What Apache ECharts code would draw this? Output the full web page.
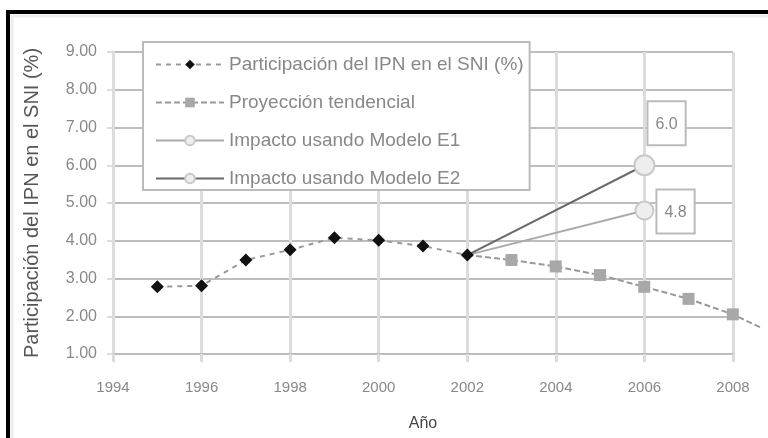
<!DOCTYPE html>
<html>
<head>
<meta charset="utf-8">
<script src="https://cdn.jsdelivr.net/npm/echarts@6/dist/echarts.min.js"></script>
<style>
html,body{margin:0;padding:0;background:#fff;}
#chart{width:768px;height:438px;}
</style>
</head>
<body>
<div id="chart"></div>
<script>
var seriesNames = ['Participación del IPN en el SNI (%)', 'Proyección tendencial', 'Impacto usando Modelo E1', 'Impacto usando Modelo E2'];
var histYears = [1995, 1996, 1997, 1998, 1999, 2000, 2001, 2002];
var histValues = [2.78, 2.81, 3.49, 3.76, 4.08, 4.01, 3.86, 3.62];
var projYears = [2002, 2003, 2004, 2005, 2006, 2007, 2008, 2008.65];
var projValues = [3.62, 3.49, 3.32, 3.09, 2.78, 2.46, 2.05, 1.69];
var e1Years = [2002, 2006];
var e1Values = [3.62, 4.8];
var e2Years = [2002, 2006];
var e2Values = [3.62, 6.0];
var yTicks = [1, 9, 1];   // min, max, step
var xTicks = [1994, 2008, 2];
var xTail = 2008.75;      // the trend line runs on past the last gridline

function pairs(xs, ys){
    var out = [];
    for (var i = 0; i < xs.length; i++) out.push([xs[i], ys[i]]);
    return out;
}

var font = 'Liberation Sans, Arial, sans-serif';
var chart = echarts.init(document.getElementById('chart'));

var projData = pairs(projYears, projValues);
projData[0] = {value: projData[0], symbol: 'none'};
projData[projData.length - 1] = {value: projData[projData.length - 1], symbol: 'none'};

function endLabel(pos){
    return {
        show: true,
        position: pos,
        formatter: function(p){ return p.value[1].toFixed(1); },
        fontFamily: font,
        fontSize: 16,
        color: '#888',
        backgroundColor: '#fff',
        borderColor: '#bbb',
        borderWidth: 2,
        padding: [14, 7, 12, 7]
    };
}
var e1Data = pairs(e1Years, e1Values);
e1Data[0] = {value: e1Data[0], symbol: 'none'};
e1Data[1] = {value: e1Data[1], label: endLabel([23, -10])};
var e2Data = pairs(e2Years, e2Values);
e2Data[0] = {value: e2Data[0], symbol: 'none'};
e2Data[1] = {value: e2Data[1], label: endLabel([15, -52])};

var option = {
    animation: false,
    backgroundColor: '#fff',
    graphic: [{
        type: 'rect',
        shape: {x: 8, y: 12, width: 900, height: 600},
        style: {fill: 'none', stroke: '#000', lineWidth: 4},
        z: 100
    }, {
        type: 'rect',
        shape: {x: 12, y: 16, width: 900, height: 600},
        style: {fill: 'none', stroke: '#eee', lineWidth: 3},
        z: 99
    }],
    grid: [
        {left: 113, right: 35, top: 52, bottom: 84},
        {left: 113, right: 2, top: 52, bottom: 84}
    ],
    legend: {
        orient: 'vertical',
        left: 143,
        top: 42,
        data: seriesNames,
        backgroundColor: '#fff',
        borderColor: '#bbb',
        borderWidth: 2,
        padding: [13, 6, 2, 12],
        itemWidth: 68,
        itemHeight: 12,
        itemGap: 19,
        textStyle: {fontFamily: font, fontSize: 19, color: '#888'},
        z: 10
    },
    xAxis: [{
        type: 'value',
        gridIndex: 0,
        min: xTicks[0],
        max: xTicks[1],
        interval: xTicks[2],
        name: 'Año',
        nameLocation: 'middle',
        nameGap: 62,
        nameTextStyle: {fontFamily: font, fontSize: 16, color: '#444'},
        axisLine: {show: true, lineStyle: {color: '#bdbdbd', width: 2}},
        axisTick: {show: true, length: 8, lineStyle: {color: '#dcdcdc', width: 3}},
        axisLabel: {fontFamily: font, fontSize: 15, color: '#888', margin: 26,
            formatter: function(v){ return String(v); }},
        splitLine: {show: true, lineStyle: {color: '#dcdcdc', width: 3}}
    }, {
        type: 'value',
        gridIndex: 1,
        min: xTicks[0],
        max: xTail,
        show: false
    }],
    yAxis: [{
        type: 'value',
        gridIndex: 0,
        min: yTicks[0],
        max: yTicks[1],
        interval: yTicks[2],
        name: seriesNames[0],
        nameLocation: 'middle',
        nameGap: 71,
        nameTextStyle: {fontFamily: font, fontSize: 20, color: '#555'},
        axisLine: {show: true, lineStyle: {color: '#dcdcdc', width: 3}},
        axisTick: {show: true, length: 6, lineStyle: {color: '#dcdcdc', width: 2}},
        axisLabel: {fontFamily: font, fontSize: 16, color: '#888', margin: 16,
            formatter: function(v){ return v.toFixed(2); }},
        splitLine: {show: true, lineStyle: {color: '#bdbdbd', width: 2}}
    }, {
        type: 'value',
        gridIndex: 1,
        min: yTicks[0],
        max: yTicks[1],
        show: false
    }],
    series: [{
        name: seriesNames[1],
        type: 'line',
        xAxisIndex: 1,
        yAxisIndex: 1,
        data: projData,
        symbol: 'rect',
        symbolSize: 12,
        itemStyle: {color: '#a8a8a8'},
        lineStyle: {color: '#999', width: 2, type: [6, 3]},
        z: 3
    }, {
        name: seriesNames[2],
        type: 'line',
        data: e1Data,
        symbol: 'circle',
        symbolSize: 18,
        itemStyle: {color: '#eeeeee', borderColor: '#c8c8c8', borderWidth: 2},
        lineStyle: {color: '#aaa', width: 2},
        z: 3
    }, {
        name: seriesNames[3],
        type: 'line',
        data: e2Data,
        symbol: 'circle',
        symbolSize: 20,
        itemStyle: {color: '#eeeeee', borderColor: '#c8c8c8', borderWidth: 2},
        lineStyle: {color: '#6a6a6a', width: 2},
        z: 3
    }, {
        name: seriesNames[0],
        type: 'line',
        data: pairs(histYears, histValues),
        symbol: 'diamond',
        symbolSize: 13,
        itemStyle: {color: '#111'},
        lineStyle: {color: '#999', width: 2, type: [5, 5]},
        z: 4
    }]
};
chart.setOption(option);
</script>
</body>
</html>
